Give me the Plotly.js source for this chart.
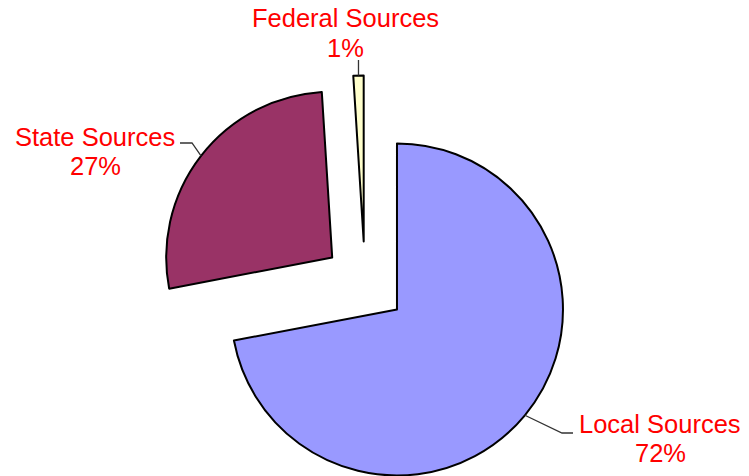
<!DOCTYPE html>
<html>
<head>
<meta charset="utf-8">
<script src="https://cdn.plot.ly/plotly-3.0.1.min.js"></script>
<style>
  html, body { margin: 0; padding: 0; background: #fff; overflow: hidden; }
  #chart { width: 749px; height: 500px; }
</style>
</head>
<body>
<div id="chart"></div>
<script>
// ---- data ----
const categories = ["Local Sources", "State Sources", "Federal Sources"];
const values = [72, 27, 1];
const sliceColors = ["#9999FF", "#993366", "#FFFFCC"];

// ---- layout constants (pixels) ----
const W = 749, H = 500;
const CX = 365, CY = 283;      // pie centre
const R = 166;                 // radius
const PULL = 0.25;             // explode fraction
const half = R * (1 + PULL);

const px2x = p => p / W;
const px2y = p => 1 - p / H;

// label placement (layout, pixels): centre x, y of first and second line
const labelPos = [
  {x: 660, y1: 424, y2: 453, attach: [573, 433], elbow: [562, 433]},
  {x: 95,  y1: 137, y2: 166, attach: [180, 143], elbow: [192, 143]},
  {x: 345, y1: 18,  y2: 48,  attach: null, elbow: null}
];

const labelFont = {family: "Liberation Sans, Arial, sans-serif", size: 25.5, color: "#FF0000"};

const total = values.reduce((a, b) => a + b, 0);
let cum = 0;
const annotations = [];
const shapes = [];
values.forEach((v, i) => {
  const start = cum / total * 360;
  cum += v;
  const end = cum / total * 360;
  const mid = (start + end) / 2 * Math.PI / 180;
  // pulled centre of the slice
  const pcx = CX + Math.sin(mid) * R * PULL;
  const pcy = CY - Math.cos(mid) * R * PULL;
  // point on the arc at mid-angle
  const ax = pcx + Math.sin(mid) * R;
  const ay = pcy - Math.cos(mid) * R;
  const pct = Math.round(v / total * 100) + "%";
  const lp = labelPos[i];
  [[categories[i], lp.y1], [pct, lp.y2]].forEach(([txt, yy]) => {
    annotations.push({
      xref: "paper", yref: "paper",
      x: px2x(lp.x), y: px2y(yy),
      xanchor: "center", yanchor: "middle",
      text: txt,
      showarrow: false,
      font: labelFont,
      align: "center"
    });
  });
  let path;
  if (lp.attach) {
    path = `M ${px2x(ax)} ${px2y(ay)} L ${px2x(lp.elbow[0])} ${px2y(lp.elbow[1])} L ${px2x(lp.attach[0])} ${px2y(lp.attach[1])}`;
  } else {
    path = `M ${px2x(ax)} ${px2y(ay)} L ${px2x(ax)} ${px2y(60)}`;
  }
  shapes.push({
    type: "path", xref: "paper", yref: "paper", path: path,
    line: {color: "#333333", width: 1.3}
  });
});

const trace = {
  type: "pie",
  labels: categories,
  values: values,
  sort: false,
  direction: "clockwise",
  rotation: 0,
  pull: values.map(() => PULL),
  marker: {colors: sliceColors, line: {color: "#000000", width: 2}},
  textinfo: "none",
  hoverinfo: "skip",
  showlegend: false,
  domain: {
    x: [px2x(CX - half), px2x(CX + half)],
    y: [px2y(CY + half), px2y(CY - half)]
  }
};

const layout = {
  width: W, height: H,
  margin: {l: 0, r: 0, t: 0, b: 0},
  paper_bgcolor: "#ffffff",
  plot_bgcolor: "#ffffff",
  showlegend: false,
  annotations: annotations,
  shapes: shapes
};

Plotly.newPlot("chart", [trace], layout, {displayModeBar: false, staticPlot: true});
</script>
</body>
</html>
